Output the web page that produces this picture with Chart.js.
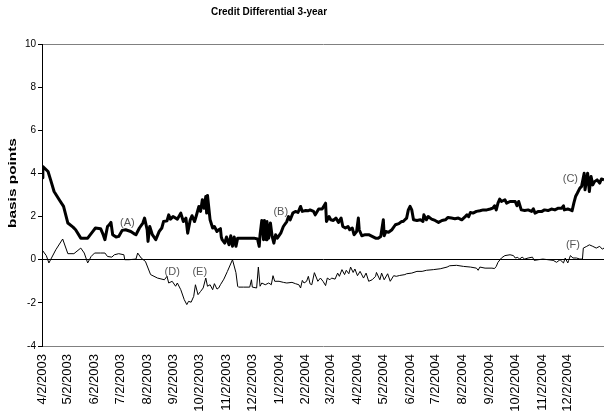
<!DOCTYPE html>
<html>
<head>
<meta charset="utf-8">
<script src="https://cdn.jsdelivr.net/npm/chart.js@4.4.1/dist/chart.umd.min.js"></script>
<style>
html,body{margin:0;padding:0;background:#fff;}
#wrap{width:604px;height:411px;}
</style>
</head>
<body>
<div id="wrap"><canvas id="creditChart" width="604" height="411"></canvas></div>
<script>
// days counted from 4/2/2003
var monthDays=[0,30,61,91,122,153,183,214,244,275,306,335,366,396,427,457,488,519,549,580,610];
var monthLabels=['4/2/2003','5/2/2003','6/2/2003','7/2/2003','8/2/2003','9/2/2003','10/2/2003','11/2/2003','12/2/2003',
    '1/2/2004','2/2/2004','3/2/2004','4/2/2004','5/2/2004','6/2/2004','7/2/2004','8/2/2004','9/2/2004','10/2/2004','11/2/2004','12/2/2004'];

// thick line
var spreadDays=[0,1,7,10,14,20,25,30,36,39,45,53,59,62,68,71,73,76,78,80,82,86,89,93,97,103,107,109,113,117,119,122,123,125,128,132,136,139,141,145,147,149,152,157,161,164,167,169,172,174,177,179,182,184,186,188,190,191,192,195,198,200,203,205,207,208,209,212,214,217,219,221,223,225,227,230,238,246,250,252,253,255,257,258,260,261,263,265,267,269,271,273,277,280,284,286,288,291,294,297,300,302,306,309,311,315,317,321,325,329,330,333,335,338,341,344,347,349,352,355,357,360,362,365,367,368,371,375,379,383,387,390,393,396,397,399,402,406,410,414,417,419,421,423,425,427,429,431,435,439,442,443,446,448,452,456,460,464,468,471,475,479,483,487,491,493,495,497,500,504,508,512,516,520,523,525,527,529,531,533,537,539,543,547,549,551,553,556,560,564,568,570,572,576,580,583,587,591,595,599,603,605,606,610,613,615,617,619,621,624,626,629,630,633,635,637,639,641,644,647,649,652];
var spreadValues=[3.8,4.32,4.09,3.70,3.16,2.78,2.47,1.70,1.51,1.39,1.0,1.0,1.31,1.47,1.44,1.16,0.93,1.54,1.62,1.73,1.16,1.05,1.08,1.36,1.39,1.31,1.2,1.16,1.47,1.70,1.93,1.39,0.85,1.54,1.16,0.93,1.31,1.47,1.77,1.8,2.08,1.88,2.0,1.88,2.16,1.77,1.93,1.23,1.85,2.04,1.77,2.04,2.47,2.24,2.78,2.39,2.93,2.16,2.98,1.85,1.47,1.54,1.31,1.39,1.44,1.05,0.93,0.77,1.05,0.69,1.11,0.62,1.05,0.62,1.0,1.0,1.0,1.0,0.96,0.62,1.16,1.82,0.93,1.82,0.93,1.77,1.0,1.70,1.08,0.77,1.16,1.0,1.23,1.54,1.77,2.0,1.85,2.16,2.24,2.19,2.47,2.24,2.28,2.27,2.31,2.24,2.08,2.35,2.35,2.62,1.77,2.0,1.85,1.82,1.93,1.73,1.93,1.54,1.47,1.54,1.39,1.47,1.16,1.31,1.93,1.39,1.11,1.16,1.16,1.08,1.0,1.0,1.08,1.85,1.11,1.31,1.27,1.39,1.62,1.67,1.77,1.77,1.85,1.93,2.31,2.47,2.31,1.85,1.82,1.85,1.77,2.08,1.85,2.0,1.88,1.82,1.73,1.82,1.85,1.96,1.93,1.90,1.93,1.85,2.0,2.08,2.0,2.19,2.16,2.24,2.27,2.31,2.31,2.35,2.39,2.5,2.31,2.62,2.81,2.70,2.78,2.62,2.70,2.70,2.70,2.5,2.70,2.31,2.28,2.31,2.24,2.36,2.16,2.24,2.24,2.31,2.28,2.35,2.31,2.39,2.39,2.5,2.31,2.35,2.31,2.27,2.62,2.93,3.08,3.32,3.40,4.01,3.24,4.01,3.16,3.86,3.47,3.62,3.70,3.55,3.74,3.70];

// thin line
var diffDays=[0,5,8,16,24,30,37,45,49,53,57,61,68,73,76,81,84,89,95,96,101,109,111,115,120,126,134,142,145,147,151,155,157,161,165,168,170,173,176,178,181,184,187,190,192,195,198,200,203,205,207,211,215,221,225,227,228,234,241,243,244,249,251,253,255,259,263,266,268,270,275,280,284,290,294,298,300,302,304,307,309,311,313,316,320,323,326,329,331,334,336,340,343,345,348,351,353,356,358,361,363,366,369,373,376,379,383,387,388,392,394,397,401,404,408,411,415,421,423,429,435,441,446,454,462,470,473,481,489,497,504,506,508,514,522,525,527,529,533,537,543,547,549,552,554,557,560,564,569,571,576,581,587,593,597,601,605,607,610,611,613,616,620,624,627,628,632,635,639,643,647,650,652];
var diffValues=[0.46,0.19,-0.15,0.46,0.96,0.28,0.28,0.54,0.31,-0.15,0.15,0.31,0.31,0.31,0.15,0.12,0.23,0.28,0.23,0,0,0.03,0.31,0.08,-0.08,-0.69,-0.85,-0.93,-0.77,-1.08,-1.0,-1.23,-1.08,-1.39,-1.85,-2.08,-1.93,-1.97,-1.70,-1.16,-1.62,-1.47,-1.31,-0.85,-1.23,-1.16,-1.39,-1.11,-1.36,-1.31,-1.16,-0.9,-0.55,0.0,-0.6,-1.23,-1.27,-1.27,-1.27,-0.93,-1.27,-1.31,-0.34,-1.23,-1.08,-1.16,-1.08,-1.16,-0.74,-1.0,-1.0,-1.05,-1.08,-1.05,-1.11,-1.16,-1.31,-0.96,-1.08,-1.0,-0.77,-1.12,-1.16,-0.6,-1.0,-0.85,-1.0,-1.20,-0.85,-0.93,-0.85,-0.90,-0.62,-0.77,-0.46,-0.69,-0.49,-0.65,-0.34,-0.59,-0.43,-0.74,-0.54,-0.85,-0.62,-1.0,-0.93,-0.77,-0.59,-0.93,-0.62,-0.93,-0.65,-1.0,-0.74,-0.77,-0.73,-0.69,-0.65,-0.62,-0.54,-0.54,-0.49,-0.46,-0.42,-0.34,-0.28,-0.26,-0.31,-0.34,-0.39,-0.49,-0.34,-0.39,-0.39,-0.41,-0.31,-0.12,0.08,0.19,0.23,0.19,0.08,0.11,0.03,0.12,0.03,0.08,0.12,-0.03,0,0.03,0,-0.03,-0.12,0,-0.15,0.08,-0.15,-0.03,0.19,0.08,0.08,0.03,0.03,0.54,0.62,0.69,0.62,0.54,0.62,0.49,0.54];

var noteLabels=['(A)','(B)','(C)','(D)','(E)','(F)'];
var noteDays=[99,277,613,151,183,616];
var noteValues=[1.71,2.21,3.75,-0.57,-0.57,0.69];

function toPoints(days,vals){
    var pts=[];
    for(var i=0;i<days.length;i++){
        pts.push({x:days[i],y:vals[i]});
    }
    return pts;
}

var textPlugin={
    id:'textPlugin',
    afterDraw:function(chart){
        var ctx=chart.ctx;
        var xs=chart.scales.x, ys=chart.scales.y;
        ctx.save();
        // title
        ctx.fillStyle='#000';
        ctx.font='bold 10px "Liberation Sans", Arial, sans-serif';
        ctx.textAlign='center';
        ctx.textBaseline='middle';
        ctx.fillText('Credit Differential 3-year',269,12);
        // y axis title (stretched along its length like the original)
        ctx.save();
        ctx.translate(13,183);
        ctx.rotate(-Math.PI/2);
        ctx.scale(1.4,1);
        ctx.font='bold 11px "Liberation Sans", Arial, sans-serif';
        ctx.fillText('basis points',0,0);
        ctx.restore();
        // notes
        ctx.fillStyle='#555';
        ctx.font='11px "Liberation Sans", Arial, sans-serif';
        for(var i=0;i<noteLabels.length;i++){
            ctx.fillText(noteLabels[i],xs.getPixelForValue(noteDays[i]),ys.getPixelForValue(noteValues[i]));
        }
        ctx.restore();
    }
};

var ctx=document.getElementById('creditChart').getContext('2d');
var creditChart=new Chart(ctx,{
    type:'line',
    data:{
        datasets:[{
            data:toPoints(spreadDays,spreadValues),
            borderColor:'#000',
            borderWidth:3,
            pointRadius:0,
            tension:0,
            borderJoinStyle:'round'
        },{
            data:toPoints(diffDays,diffValues),
            borderColor:'#000',
            borderWidth:1,
            pointRadius:0,
            tension:0
        }]
    },
    options:{
        responsive:false,
        animation:false,
        devicePixelRatio:1,
        layout:{padding:{top:44,left:0,right:0,bottom:0}},
        plugins:{legend:{display:false},tooltip:{enabled:false},title:{display:false}},
        scales:{
            x:{
                type:'linear',
                min:0,
                max:652,
                grid:{display:false},
                border:{display:false},
                afterBuildTicks:function(scale){
                    scale.ticks=monthDays.map(function(d){return {value:d};});
                },
                afterFit:function(scale){scale.height=65;},
                ticks:{
                    autoSkip:false,
                    minRotation:90,
                    maxRotation:90,
                    padding:0,
                    color:'#000',
                    font:{family:'"Liberation Sans", Arial, sans-serif',size:13},
                    callback:function(value,index){return monthLabels[index];}
                }
            },
            y:{
                min:-4,
                max:10,
                afterFit:function(scale){scale.width=42;},
                border:{display:true,color:'#000',width:1},
                grid:{
                    drawTicks:true,
                    tickLength:4,
                    tickColor:'#000',
                    color:function(c){
                        if(c.tick.value===0) return '#000';
                        if(c.tick.value===10||c.tick.value===-4) return '#808080';
                        return 'rgba(0,0,0,0)';
                    }
                },
                ticks:{
                    stepSize:2,
                    padding:2,
                    color:'#000',
                    font:{family:'"Liberation Sans", Arial, sans-serif',size:10}
                }
            }
        }
    },
    plugins:[textPlugin]
});
</script>
</body>
</html>
